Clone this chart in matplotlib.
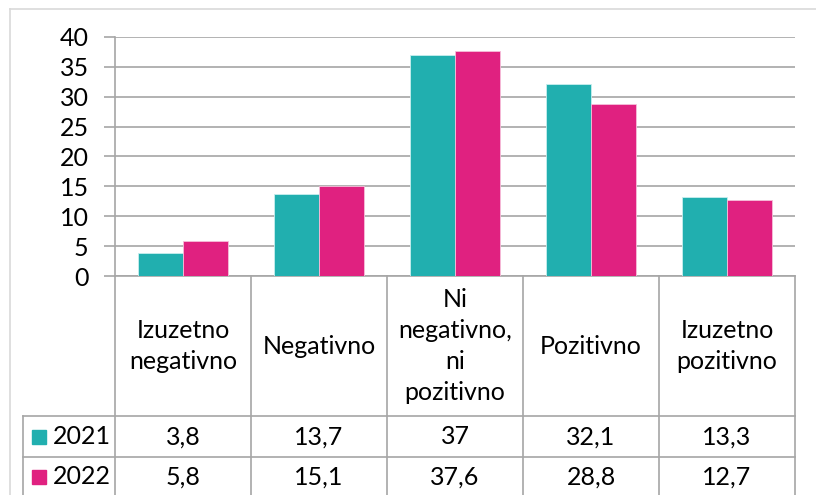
"""Bar chart with Excel-style data table: 2021 vs 2022."""
import matplotlib.pyplot as plt
import numpy as np
from matplotlib.patches import Rectangle

categories = ["Izuzetno\nnegativno", "Negativno", "Ni\nnegativno,\nni\npozitivno",
              "Pozitivno", "Izuzetno\npozitivno"]
years = ["2021", "2022"]
values_2021 = [3.8, 13.7, 37, 32.1, 13.3]
values_2022 = [5.8, 15.1, 37.6, 28.8, 12.7]
labels_2021 = ["3,8", "13,7", "37", "32,1", "13,3"]
labels_2022 = ["5,8", "15,1", "37,6", "28,8", "12,7"]
colors = ["#21AFAF", "#E02180"]
yticks = [0, 5, 10, 15, 20, 25, 30, 35, 40]

plt.rcParams['font.family'] = ['Lato', 'DejaVu Sans']
grid_col = "#a6a6a6"
fs = 18

fig = plt.figure(figsize=(8.16, 4.95), dpi=100)
ax = fig.add_axes([115 / 816, 1 - 276 / 495, 680 / 816, 239 / 495])

x = np.arange(len(categories))
w = 0.33
ax.bar(x - w / 2, values_2021, w, color=colors[0], edgecolor="#c8eeee", linewidth=0.6, zorder=3)
ax.bar(x + w / 2, values_2022, w, color=colors[1], edgecolor="#f5c0da", linewidth=0.6, zorder=3)

ax.set_xlim(-0.5, len(categories) - 0.5)
ax.set_ylim(0, 40)
ax.set_yticks(yticks)
ax.set_yticklabels([str(t) for t in yticks], fontsize=fs)
ax.set_xticks([])
ax.yaxis.grid(True, color=grid_col, linewidth=1.2, zorder=0)
ax.tick_params(axis='y', length=8, width=1.2, color=grid_col, pad=11)
for s in ["top", "right"]:
    ax.spines[s].set_visible(False)
ax.spines["left"].set_color(grid_col)
ax.spines["bottom"].set_color(grid_col)
ax.spines["left"].set_linewidth(1.2)
ax.spines["bottom"].set_linewidth(1.2)

# data table below the axis
tr = ax.get_xaxis_transform()
bottom = -0.95
row1, row2 = -0.586, -0.758
left_edge = -1.176
for b in np.arange(-0.5, len(categories), 1.0):
    ax.plot([b, b], [0, bottom], color=grid_col, lw=1.2, transform=tr, clip_on=False)
for yy in (row1, row2):
    ax.plot([left_edge, len(categories) - 0.5], [yy, yy], color=grid_col, lw=1.2,
            transform=tr, clip_on=False)
ax.plot([left_edge, left_edge], [row1, bottom], color=grid_col, lw=1.2, transform=tr, clip_on=False)

for i, c in enumerate(categories):
    ax.text(i, -0.293, c, transform=tr, ha="center", va="center", fontsize=fs,
            linespacing=1.42, clip_on=False)
    ax.text(i, -0.672, labels_2021[i], transform=tr, ha="center", va="center", fontsize=fs)
    ax.text(i, -0.84, labels_2022[i], transform=tr, ha="center", va="center", fontsize=fs)

for yc, year, col in zip((-0.672, -0.84), years, colors):
    ax.add_patch(Rectangle((-1.11, yc - 0.029), 0.103, 0.058, transform=tr, color=col,
                           clip_on=False))
    ax.text(-0.955, yc, year, transform=tr, ha="left", va="center", fontsize=fs)

# outer chart border
fig.add_artist(plt.Line2D([10 / 816, 1], [1 - 9 / 495, 1 - 9 / 495], color="#d9d9d9", lw=1.2))
fig.add_artist(plt.Line2D([10 / 816, 10 / 816], [0, 1 - 9 / 495], color="#d9d9d9", lw=1.2))

fig.savefig("out.png", dpi=100)
